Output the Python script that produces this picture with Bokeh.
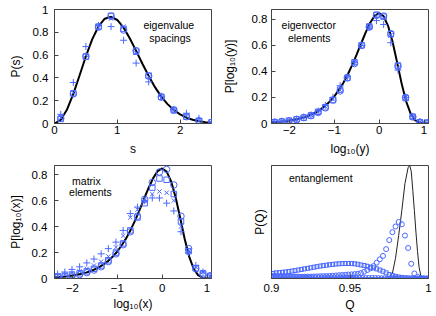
from bokeh.plotting import figure
from bokeh.layouts import row, column
from bokeh.models import Range1d, Label, FixedTicker, CustomJSTickFormatter
from bokeh.embed import file_html
from bokeh.resources import INLINE

# ---------------- data ----------------
# Panel 1: eigenvalue spacings
s_bins = [0.1, 0.3, 0.5, 0.7, 0.9, 1.1, 1.3, 1.5, 1.7, 1.9, 2.1, 2.3, 2.5]
s_circle = [0.045, 0.26, 0.59, 0.845, 0.94, 0.82, 0.64, 0.415, 0.23, 0.12, 0.06, 0.025, 0.01]
s_square = [0.04, 0.265, 0.585, 0.85, 0.945, 0.83, 0.63, 0.42, 0.235, 0.115, 0.06, 0.02, 0.01]
s_xmark = [0.05, 0.27, 0.60, 0.84, 0.92, 0.85, 0.62, 0.41, 0.225, 0.12, 0.065, 0.025, 0.01]
s_plus = [0.08, 0.36, 0.675, 0.86, 0.85, 0.73, 0.53, 0.365, 0.24, 0.12, 0.09, 0.045, 0.01]
s_curve_x = [0.0, 0.1, 0.2, 0.3, 0.4, 0.5, 0.6, 0.7, 0.8, 0.9, 1.0, 1.1, 1.2, 1.3,
             1.4, 1.5, 1.6, 1.7, 1.8, 1.9, 2.0, 2.1, 2.2, 2.3, 2.4, 2.5]
s_curve_y = [0.0, 0.032, 0.123, 0.260, 0.423, 0.590, 0.738, 0.851, 0.919, 0.936, 0.908,
             0.841, 0.746, 0.637, 0.524, 0.416, 0.319, 0.236, 0.170, 0.118, 0.080,
             0.052, 0.033, 0.020, 0.012, 0.007]

# Panels 2 and 3: log10 histograms
lg_bins = [-2.33, -2.17, -2.01, -1.84, -1.68, -1.52, -1.36, -1.20, -1.03, -0.87, -0.71,
           -0.55, -0.39, -0.22, -0.06, 0.10, 0.26, 0.42, 0.59, 0.75, 0.91, 1.07]
v_circle = [0.01, 0.015, 0.02, 0.03, 0.045, 0.06, 0.085, 0.12, 0.18, 0.25, 0.35, 0.46,
            0.60, 0.74, 0.83, 0.825, 0.69, 0.44, 0.20, 0.05, 0.01, 0.005]
v_square = [0.01, 0.014, 0.022, 0.032, 0.045, 0.062, 0.09, 0.125, 0.18, 0.26, 0.35, 0.47,
            0.60, 0.745, 0.835, 0.82, 0.685, 0.445, 0.195, 0.052, 0.01, 0.005]
v_xmark = [0.012, 0.015, 0.02, 0.03, 0.047, 0.065, 0.09, 0.13, 0.185, 0.255, 0.36, 0.465,
           0.605, 0.74, 0.825, 0.81, 0.68, 0.43, 0.20, 0.05, 0.012, 0.005]
v_plus = [0.012, 0.016, 0.022, 0.034, 0.05, 0.066, 0.095, 0.14, 0.20, 0.29, 0.36, 0.47,
          0.60, 0.74, 0.79, 0.76, 0.62, 0.41, 0.20, 0.055, 0.012, 0.005]

m_circle = [0.01, 0.015, 0.02, 0.03, 0.045, 0.065, 0.09, 0.13, 0.19, 0.26, 0.36, 0.48,
            0.61, 0.74, 0.82, 0.84, 0.72, 0.48, 0.23, 0.075, 0.03, 0.02]
m_square = [0.015, 0.02, 0.03, 0.04, 0.055, 0.075, 0.10, 0.14, 0.20, 0.27, 0.37, 0.47,
            0.58, 0.70, 0.77, 0.76, 0.65, 0.44, 0.21, 0.08, 0.04, 0.02]
m_xmark = [0.02, 0.03, 0.04, 0.055, 0.075, 0.10, 0.13, 0.17, 0.24, 0.33, 0.47, 0.53,
           0.60, 0.65, 0.67, 0.66, 0.60, 0.40, 0.21, 0.09, 0.05, 0.02]
m_plus = [0.035, 0.05, 0.07, 0.09, 0.12, 0.15, 0.19, 0.23, 0.28, 0.37, 0.50, 0.55,
          0.60, 0.62, 0.62, 0.58, 0.52, 0.36, 0.20, 0.10, 0.05, 0.02]

lg_curve_x = [-2.4, -2.3, -2.2, -2.1, -2.0, -1.9, -1.8, -1.7, -1.6, -1.5, -1.4, -1.3,
              -1.2, -1.1, -1.0, -0.9, -0.8, -0.7, -0.6, -0.5, -0.4, -0.3, -0.2, -0.1,
              0.0, 0.1, 0.2, 0.3, 0.4, 0.5, 0.6, 0.7, 0.8, 0.9, 1.0, 1.1]
lg_curve_y = [0.009, 0.011, 0.014, 0.018, 0.023, 0.029, 0.036, 0.045, 0.056, 0.071,
              0.088, 0.110, 0.136, 0.169, 0.208, 0.256, 0.311, 0.376, 0.450, 0.531,
              0.616, 0.699, 0.773, 0.827, 0.847, 0.823, 0.748, 0.625, 0.469, 0.308,
              0.171, 0.077, 0.026, 0.006, 0.001, 0.0]

# Panel 4: entanglement
q_bins = [0.901, 0.903, 0.905, 0.907, 0.909, 0.911, 0.913, 0.915, 0.917, 0.919,
          0.921, 0.923, 0.925, 0.927, 0.929, 0.931, 0.933, 0.935, 0.937, 0.939,
          0.941, 0.943, 0.945, 0.947, 0.949, 0.951, 0.953, 0.955, 0.957, 0.959,
          0.961, 0.963, 0.965, 0.967, 0.969, 0.971, 0.973, 0.975, 0.977, 0.979,
          0.981, 0.983, 0.985, 0.987, 0.989, 0.991, 0.993, 0.995, 0.997, 0.999]
q_circle = [0.025, 0.022, 0.02, 0.02, 0.018, 0.018, 0.017, 0.017, 0.016, 0.016,
            0.016, 0.017, 0.017, 0.018, 0.019, 0.02, 0.021, 0.022, 0.023, 0.025,
            0.027, 0.029, 0.031, 0.033, 0.035, 0.037, 0.039, 0.042, 0.048, 0.06,
            0.075, 0.09, 0.11, 0.14, 0.17, 0.20, 0.26, 0.34, 0.41, 0.46,
            0.50, 0.48, 0.38, 0.27, 0.13, 0.045, 0.015, 0.005, 0.002, 0.001]
q_square = [0.045, 0.05, 0.052, 0.055, 0.058, 0.062, 0.066, 0.07, 0.075, 0.08,
            0.085, 0.09, 0.095, 0.10, 0.105, 0.11, 0.114, 0.118, 0.122, 0.125,
            0.128, 0.13, 0.132, 0.133, 0.133, 0.132, 0.13, 0.126, 0.12, 0.115,
            0.108, 0.10, 0.094, 0.085, 0.075, 0.064, 0.05, 0.035, 0.026, 0.019,
            0.013, 0.009, 0.006, 0.004, 0.003, 0.002, 0.001, 0.001, 0.0, 0.0]
q_xmark = [0.03, 0.03, 0.029, 0.029, 0.028, 0.028, 0.027, 0.027, 0.026, 0.026,
           0.025, 0.025, 0.024, 0.024, 0.023, 0.023, 0.022, 0.022, 0.021, 0.021,
           0.02, 0.02, 0.02, 0.019, 0.019, 0.018, 0.018, 0.017, 0.017, 0.016,
           0.016, 0.015, 0.015, 0.014, 0.013, 0.012, 0.011, 0.01, 0.009, 0.008,
           0.007, 0.006, 0.005, 0.005, 0.004, 0.004, 0.003, 0.003, 0.002, 0.002]
q_plus = [0.012, 0.012, 0.012, 0.011, 0.011, 0.011, 0.011, 0.01, 0.01, 0.01,
          0.01, 0.01, 0.01, 0.009, 0.009, 0.009, 0.009, 0.009, 0.008, 0.008,
          0.008, 0.008, 0.008, 0.007, 0.007, 0.007, 0.007, 0.007, 0.006, 0.006,
          0.006, 0.006, 0.005, 0.005, 0.005, 0.005, 0.004, 0.004, 0.004, 0.004,
          0.003, 0.003, 0.003, 0.003, 0.002, 0.002, 0.002, 0.002, 0.001, 0.001]
q_curve_x = [0.9, 0.972, 0.975, 0.977, 0.979, 0.981, 0.983, 0.985, 0.987, 0.988,
             0.989, 0.990, 0.991, 0.992, 0.993, 0.994, 0.995, 0.996, 1.0]
q_curve_y = [0.0, 0.0, 0.005, 0.045, 0.18, 0.38, 0.60, 0.84, 0.98, 1.0,
             0.95, 0.78, 0.60, 0.41, 0.24, 0.10, 0.03, 0.0, 0.0]

# ---------------- styling ----------------
FONT = "Liberation Sans"
BLUE = "#4a68ff"
AXC = "#444444"

fmt_plain = CustomJSTickFormatter(code="""
var v = Math.round(tick*100)/100;
return v < 0 ? '\u2212' + String(-v) : String(v);
""")


def make_fig(xr, yr, fw, fh, left, right, top, bottom, xticks, yticks,
             xlabel, ylabel, lab_std_x, lab_std_y, xl_std, yl_std):
    p = figure(frame_width=fw, frame_height=fh,
               x_range=Range1d(*xr), y_range=Range1d(*yr),
               output_backend="svg", toolbar_location=None,
               min_border_left=left, min_border_right=right,
               min_border_top=top, min_border_bottom=bottom)
    p.grid.visible = False
    p.outline_line_color = AXC
    p.outline_line_width = 1
    p.background_fill_color = "white"
    p.border_fill_color = "white"
    p.xaxis.ticker = FixedTicker(ticks=xticks)
    p.yaxis.ticker = FixedTicker(ticks=yticks)
    p.xaxis.axis_label = xlabel
    p.yaxis.axis_label = ylabel
    for ax in p.axis:
        ax.major_tick_in = 4
        ax.major_tick_out = 0
        ax.minor_tick_line_color = None
        ax.axis_line_color = AXC
        ax.major_tick_line_color = AXC
        ax.major_label_text_font = FONT
        ax.major_label_text_font_size = "11.5px"
        ax.major_label_text_color = "black"
        ax.axis_label_text_font = FONT
        ax.axis_label_text_font_size = "12px"
        ax.axis_label_text_font_style = "normal"
        ax.axis_label_text_color = "black"
        ax.formatter = fmt_plain
    p.xaxis.major_label_standoff = lab_std_x
    p.yaxis.major_label_standoff = lab_std_y
    p.xaxis.axis_label_standoff = xl_std
    p.yaxis.axis_label_standoff = yl_std
    return p


def add_markers(p, xs, series, size=6.5):
    marks = ["circle", "square", "x", "cross"]
    sizes = [size, size - 1, size - 0.5, size + 0.5]
    for mk, ys, sz in zip(marks, series, sizes):
        p.scatter(xs, ys, marker=mk, size=sz, fill_color=None,
                  line_color=BLUE, line_width=1)


def add_text(p, x, y, txt):
    p.add_layout(Label(x=x, y=y, text=txt, text_align="center",
                       text_baseline="middle", text_font=FONT,
                       text_font_size="10.5px", text_color="black"))


# Panel 1: figure 218 x 158, frame x 54..211, y 9..123
p1 = make_fig((0, 2.5), (0, 1), 157, 114, 54, 7, 9, 35,
              [0, 1, 2], [0, 0.2, 0.4, 0.6, 0.8, 1.0],
              "s", "P(s)", 2, 6, 5, 7)
p1.line(s_curve_x, s_curve_y, line_color="black", line_width=2)
add_markers(p1, s_bins, [s_circle, s_square, s_xmark, s_plus])
add_text(p1, 1.82, 0.86, "eigenvalue")
add_text(p1, 1.84, 0.754, "spacings")

# Panel 2: figure 218 x 158, frame x 271..428, y 9..123
p2 = make_fig((-2.4, 1.1), (0, 0.875), 157, 114, 53, 8, 9, 35,
              [-2, -1, 0, 1], [0, 0.2, 0.4, 0.6, 0.8],
              "log\u2081\u2080(y)", "P[log\u2081\u2080(y)]", 2, 4, 5, 12)
p2.line(lg_curve_x, lg_curve_y, line_color="black", line_width=2)
add_markers(p2, lg_bins, [v_circle, v_square, v_xmark, v_plus])
add_text(p2, -1.57, 0.754, "eigenvector")
add_text(p2, -1.56, 0.66, "elements")

# Panel 3: figure 218 x 157, frame x 54..211, y 165..278
p3 = make_fig((-2.4, 1.1), (0, 0.87), 157, 113, 54, 7, 7, 37,
              [-2, -1, 0, 1], [0, 0.2, 0.4, 0.6, 0.8],
              "log\u2081\u2080(x)", "P[log\u2081\u2080(x)]", 5, 7, 2, 6)
p3.line(lg_curve_x, lg_curve_y, line_color="black", line_width=2)
add_markers(p3, lg_bins, [m_circle, m_square, m_xmark, m_plus])
add_text(p3, -1.69, 0.752, "matrix")
add_text(p3, -1.6, 0.664, "elements")

# Panel 4: figure 218 x 157, frame x 271..428, y 165..278
p4 = make_fig((0.9, 1.0), (0, 1.0), 157, 113, 53, 8, 7, 37,
              [0.9, 0.95, 1.0], [],
              "Q", "P(Q)", 5, 0, 3, 5)
p4.line(q_curve_x, q_curve_y, line_color="#222222", line_width=1)
add_markers(p4, q_bins, [q_circle, q_square, q_xmark, q_plus], size=5)
add_text(p4, 0.9314, 0.885, "entanglement")

layout = column(row(p1, p2), row(p3, p4))
open("out.html", "w").write(file_html(layout, INLINE))
